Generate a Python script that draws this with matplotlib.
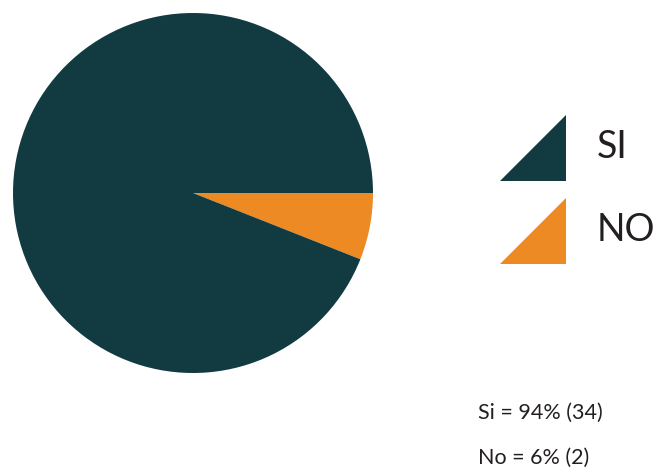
import matplotlib
matplotlib.use("Agg")
import matplotlib.pyplot as plt
from matplotlib.patches import Polygon

# data
labels = ["SI", "NO"]
percents = [94, 6]
counts = [34, 2]
colors = ["#123b41", "#ee8a24"]

plt.rcParams['font.family'] = ['Lato', 'DejaVu Sans']

fig = plt.figure(figsize=(6.6, 4.72), dpi=100)
fig.patch.set_facecolor("white")

# pie axes (pixel box: x 13..373, y 13..373)
ax = fig.add_axes([13 / 660, (472 - 373) / 472, 360 / 660, 360 / 472])
# NO slice goes clockwise from 3 o'clock, so draw it first
ax.pie(percents[::-1], colors=colors[::-1], startangle=0, counterclock=False,
       wedgeprops=dict(linewidth=0))
ax.set_xlim(-1, 1)
ax.set_ylim(-1, 1)
ax.set_aspect("equal")

# overlay in pixel coords for legend and notes
ov = fig.add_axes([0, 0, 1, 1])
ov.set_xlim(0, 660)
ov.set_ylim(472, 0)
ov.axis("off")

leg_y = [115, 198]
for i, lab in enumerate(labels):
    y0 = leg_y[i]
    tri = Polygon([[500, y0 + 66], [566, y0 + 66], [566, y0]], closed=True,
                  facecolor=colors[i], edgecolor="none")
    ov.add_patch(tri)
    ov.text(597, y0 + 32, lab, fontsize=27, va="center", ha="left", color="#231f20")

names = ["Si", "No"]
for i, n in enumerate(names):
    ov.text(478, 413 + i * 45, "%s = %d%% (%d)" % (n, percents[i], counts[i]),
            fontsize=15.5, va="center", ha="left", color="#231f20")

fig.savefig("out.png", dpi=100)
